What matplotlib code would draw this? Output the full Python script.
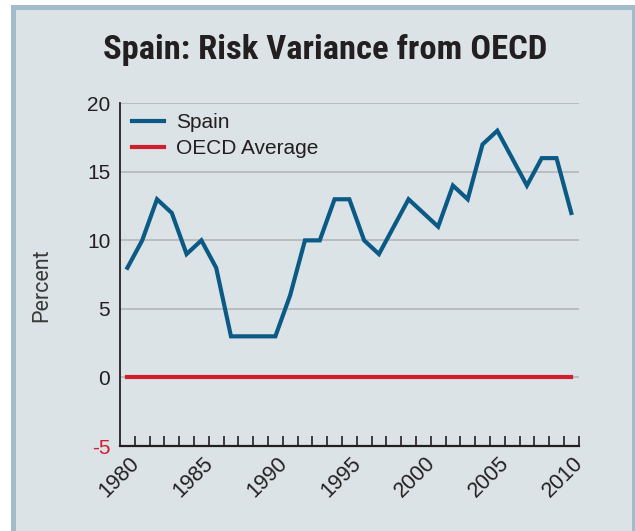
import matplotlib
matplotlib.use("Agg")
from matplotlib import pyplot as plt
from matplotlib import font_manager
from matplotlib.patches import Rectangle
from matplotlib.transforms import ScaledTranslation

years = list(range(1980, 2011))
spain = [8, 10, 13, 12, 9, 10, 8, 3, 3, 3, 3, 6, 10, 10, 13, 13, 10, 9, 11, 13,
         12, 11, 14, 13, 17, 18, 16, 14, 16, 16, 12]
oecd = [0] * len(years)
y_ticks = [-5, 0, 5, 10, 15, 20]
x_labels = [1980, 1985, 1990, 1995, 2000, 2005, 2010]

bg = '#dce3e7'
border = '#a3bccb'
blue = '#0b5a86'
red = '#cf1f2d'
dark = '#231f20'

plt.rcParams['font.family'] = ['Liberation Sans', 'DejaVu Sans']

# narrow bold face for the title if there is one
bold_names = {f.name for f in font_manager.fontManager.ttflist
              if f.weight in ('bold', 700)}
title_font, title_size = 'Liberation Sans', 20
for name, size in [('Liberation Sans Narrow', 24.5), ('Roboto Condensed', 24.8),
                   ('Noto Sans Condensed', 24.5)]:
    if name in bold_names:
        title_font, title_size = name, size
        break

fig = plt.figure(figsize=(6.35, 5.31), dpi=100)
fig.patch.set_facecolor('white')

# panel with border, runs off the right and bottom edges
W, H = 635, 531
fig.patches.append(Rectangle((11 / W, 0), 1.2, 1 - 5 / H, transform=fig.transFigure,
                             facecolor=border, edgecolor='none', zorder=-10))
fig.patches.append(Rectangle((16 / W, 0), (632 - 16) / W, 1 - 10 / H,
                             transform=fig.transFigure, facecolor=bg,
                             edgecolor='none', zorder=-9))

ax = fig.add_axes([120 / W, 1 - 446 / H, (578.7 - 120) / W, (446 - 103.3) / H])
ax.set_facecolor('none')

for v in [0, 5, 10, 15, 20]:
    ax.axhline(v, color='#b9bcbe', lw=1.4, zorder=1)

ax.plot(years, spain, color=blue, lw=3.0, label='Spain', zorder=3,
        solid_joinstyle='miter')
ax.plot(years, oecd, color=red, lw=3.0, label='OECD Average', zorder=3)

ax.set_xlim(1979.5, 2010.5)
ax.set_ylim(-5, 20)

for s in ['top', 'right']:
    ax.spines[s].set_visible(False)
ax.spines['left'].set_color(dark)
ax.spines['left'].set_linewidth(1.3)
ax.spines['bottom'].set_color(dark)
ax.spines['bottom'].set_linewidth(1.6)

ax.set_yticks(y_ticks)
ax.set_yticklabels([str(v) for v in y_ticks], fontsize=15, color=dark)
ax.get_yticklabels()[0].set_color(red)
ax.tick_params(axis='y', length=0, pad=7)

ax.set_xticks([y + 0.5 for y in years], minor=True)
ax.tick_params(axis='x', which='minor', direction='in', length=7, width=1.2,
               color=dark)
ax.set_xticks(x_labels)
ax.set_xticklabels([str(v) for v in x_labels], fontsize=15.5, color=dark,
                   rotation=45, ha='right', va='top', rotation_mode='anchor')
ax.tick_params(axis='x', which='major', length=0, pad=5)
offset = ScaledTranslation(1 / 100, 0, fig.dpi_scale_trans)
for lab in ax.get_xticklabels():
    lab.set_transform(lab.get_transform() + offset)

fig.text(325 / W, 1 - 50 / H, 'Spain: Risk Variance from OECD', ha='center',
         va='center', fontsize=title_size, fontweight='bold', color=dark,
         family=[title_font, 'DejaVu Sans'])

fig.text(42 / W, 1 - 285 / H, 'Percent', rotation=90, ha='center', va='center',
         fontsize=15.5, color='#3a3a3a', family=['Roboto', 'DejaVu Sans'])

ax.legend(loc='upper left', bbox_to_anchor=(132 / W, 1 - 113 / H),
          bbox_transform=fig.transFigure, frameon=False, fontsize=15,
          handlelength=1.55, handletextpad=0.55, labelspacing=0.35,
          borderpad=0, borderaxespad=0, labelcolor=dark)

fig.savefig('out.png', dpi=100, facecolor=fig.get_facecolor())
